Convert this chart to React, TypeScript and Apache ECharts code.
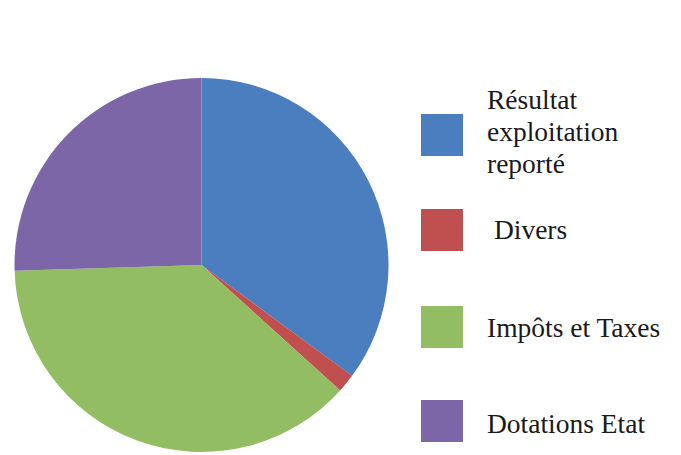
import React, { useEffect, useRef } from "react";
import * as echarts from "echarts";

const categories = ["Résultat exploitation reporté", "Divers", "Impôts et Taxes", "Dotations Etat"];
const legendLabels = ["Résultat\nexploitation\nreporté", " Divers", "Impôts et Taxes", "Dotations Etat"];
const values = [35.1, 1.6, 37.8, 25.5];
const colors = ["#4a7ebf", "#c0504f", "#93bd63", "#7d66a8"];
const swatchTops = [114, 209, 306, 400];
const labelCenters = [131, 229.3, 327, 423.3];

const FONT = "27.5px 'Liberation Serif', 'Times New Roman', serif";

export default function App() {
  const ref = useRef<HTMLDivElement>(null);
  useEffect(() => {
    if (!ref.current) return;
    const chart = echarts.init(ref.current, undefined, { renderer: "svg" });
    const graphic: any[] = [];
    legendLabels.forEach((label, i) => {
      graphic.push({
        type: "rect",
        shape: { x: 421, y: swatchTops[i], width: 42, height: 42 },
        style: { fill: colors[i] },
        silent: true,
      });
      graphic.push({
        type: "text",
        x: 487,
        y: labelCenters[i],
        style: {
          text: label,
          font: FONT,
          fill: "#1a1a1a",
          lineHeight: 32,
          align: "left",
          verticalAlign: "middle",
        },
        silent: true,
      });
    });
    chart.setOption({
      animation: false,
      color: colors,
      graphic,
      series: [
        {
          type: "pie",
          center: [201.5, 265],
          radius: 187,
          startAngle: 90,
          clockwise: true,
          label: { show: false },
          labelLine: { show: false },
          emphasis: { disabled: true },
          itemStyle: { borderWidth: 0 },
          data: categories.map((name, i) => ({ name, value: values[i] })),
        },
      ],
    });
    return () => chart.dispose();
  }, []);
  return (
    <div
      ref={ref}
      style={{ position: "fixed", left: 0, top: 0, width: 681, height: 455, background: "#fff" }}
    />
  );
}
